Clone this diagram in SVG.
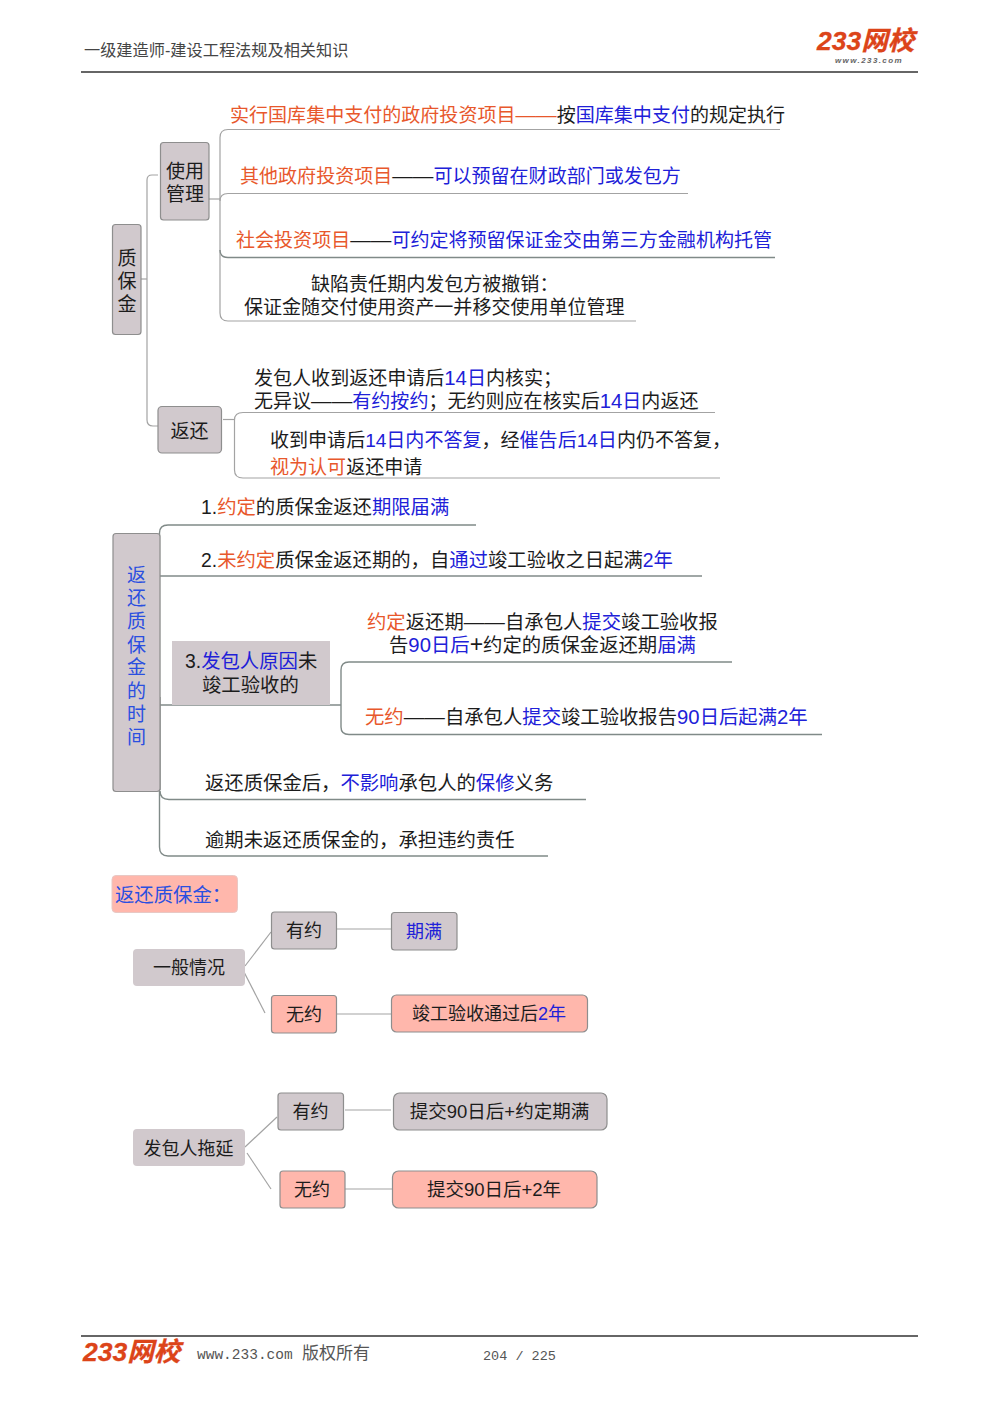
<svg xmlns="http://www.w3.org/2000/svg" width="1000" height="1415" viewBox="0 0 1000 1415">
<style>
text{font-family:"Liberation Sans","Noto Sans CJK SC",sans-serif;font-size:19.050px;fill:#1c1c1c}
.o{fill:#e8582c}.b{fill:#2020d8}.lb{fill:#2a4fe0}
.dd{font-size:20.600px}
.n{font-size:20.300px}
.w{font-size:19.350px}
.s{font-size:18px}
.s2{font-size:18.500px}
.g{fill:#d1c9cd;stroke:#8e8e8e;stroke-width:1.2}
.gn{fill:#d1c9cd}
.p{fill:#ffb7ac;stroke:#8e8e8e;stroke-width:1.2}
.pn{fill:#ffb7ac;stroke:#e8c8c4;stroke-width:1}
.c{fill:none;stroke:#a3a3a3;stroke-width:1.2}
.d{fill:none;stroke:#808a88;stroke-width:1.4}
.m{text-anchor:middle}
.rule{stroke:#333;stroke-width:1.5}
.logo{font-weight:bold;font-style:italic;fill:#dc4419;stroke:#dc4419;stroke-width:.3}
.hd{font-size:16.200px;fill:#454545}
.ft{font-family:"Liberation Mono","Noto Sans CJK SC",monospace;fill:#555}
</style>

<g id="page">
<line class="rule" x1="81" y1="72" x2="918" y2="72"/>
<line class="rule" x1="81" y1="1336" x2="918" y2="1336"/>
<text class="hd" x="84" y="56">一级建造师-建设工程法规及相关知识</text>
<text class="logo" x="817" y="50" style="font-size:26.500px">233网校</text>
<text x="835" y="63" style="font-size:8px;font-style:italic;font-weight:bold;letter-spacing:1.4px;fill:#666">www.233.com</text>
<text class="logo" x="83" y="1361" style="font-size:26.500px">233网校</text>
<text class="ft" x="197" y="1359" style="font-size:14.500px">www.233.com <tspan x="302" style="font-size:17px">版权所有</tspan></text>
<text class="ft" x="483" y="1360" style="font-size:13.500px">204 / 225</text>
</g>

<g id="connectors">
<path class="c" d="M158 175H152Q147 175 147 180V420Q147 426 153 426H158"/>
<path class="c" d="M141 279H147"/>
<path class="c" d="M209 199H220"/>
<path class="c" d="M780 129.500H228Q220 129.500 220 137.500V313Q220 321 228 321H636"/>
<path class="c" d="M220 201Q220 193.500 228 193.500H688"/>
<path class="d" d="M220 250Q220 257.500 228 257.500H775"/>
<path class="c" d="M223 419.500H234"/>
<path class="c" d="M715 412.500H243Q234.500 412.500 234.500 420V470Q234.500 478 243 478H720"/>
<path class="d" d="M476 525H168Q159.500 525 159.500 533V847Q159.500 856 168 856H548"/>
<path class="d" d="M160 576H702"/>
<path class="d" d="M160 705H341"/>
<path class="d" d="M160 791Q160 799.500 169 799.500H586"/>
<path class="d" d="M732 662H349Q341 662 341 670V727Q341 734.500 349 734.500H822"/>
<path d="M159.500 697V790" fill="none" stroke="#7c8280" stroke-width="2.200"/>
<path class="c" d="M336 929H391"/>
<path class="c" d="M245 966L271 932"/>
<path class="c" d="M244 972L265 1013"/>
<path class="c" d="M336 1014H391"/>
<path class="c" d="M345 1110H391"/>
<path class="c" d="M245 1147L277 1117"/>
<path class="c" d="M247 1153L271 1189"/>
<path class="c" d="M345 1189H392"/>
</g>

<g id="n-zhibaojin"><rect class="g" x="112.500" y="224.500" width="28.500" height="110" rx="3"/>
<text class="m" x="127" y="265">质</text><text class="m" x="127" y="288">保</text><text class="m" x="127" y="311">金</text></g>
<g id="n-shiyong"><rect class="g" x="160.500" y="142.500" width="48.500" height="77.500" rx="3"/>
<text class="m" x="185" y="178">使用</text><text class="m" x="185" y="201">管理</text></g>
<g id="n-fanhuan"><rect class="g" x="158" y="406.500" width="63.500" height="46.500" rx="4"/>
<text class="m" x="189.500" y="438">返还</text></g>

<g id="t1"><text x="230" y="122"><tspan class="o">实行国库集中支付的政府投资项目<tspan class="dd">——</tspan></tspan>按<tspan class="b">国库集中支付</tspan>的规定执行</text></g>
<g id="t2"><text x="240" y="183"><tspan class="o">其他政府投资项目</tspan><tspan class="dd">——</tspan><tspan class="b">可以预留在财政部门或发包方</tspan></text></g>
<g id="t3"><text x="236" y="247"><tspan class="o">社会投资项目</tspan><tspan class="dd">——</tspan><tspan class="b">可约定将预留保证金交由第三方金融机构托管</tspan></text></g>
<g id="t4"><text x="311" y="291">缺陷责任期内发包方被撤销：</text><text x="244" y="314">保证金随交付使用资产一并移交使用单位管理</text></g>
<g id="t5"><text x="254" y="385">发包人收到返还申请后<tspan class="b"><tspan class="n">14</tspan>日</tspan>内核实；</text>
<text x="254" y="408">无异议<tspan class="dd">——</tspan><tspan class="b">有约按约</tspan>；无约则应在核实后<tspan class="b"><tspan class="n">14</tspan>日</tspan>内返还</text></g>
<g id="t6"><text x="270" y="447">收到申请后<tspan class="b">14日内不答复</tspan>，经<tspan class="b">催告后14日</tspan>内仍不答复，</text>
<text x="270" y="474"><tspan class="o">视为认可</tspan>返还申请</text></g>

<g id="n-time"><rect class="g" x="113" y="533.500" width="47" height="258" rx="3"/>
<text class="m lb" x="136.500" y="582">返</text><text class="m lb" x="136.500" y="605">还</text><text class="m lb" x="136.500" y="628">质</text><text class="m lb" x="136.500" y="652">保</text><text class="m lb" x="136.500" y="674">金</text><text class="m lb" x="136.500" y="698">的</text><text class="m lb" x="136.500" y="721">时</text><text class="m lb" x="136.500" y="744">间</text></g>
<g id="t7"><text class="w" x="201" y="514">1.<tspan class="o">约定</tspan>的质保金返还<tspan class="b">期限届满</tspan></text></g>
<g id="t8"><text class="w" x="201" y="567">2.<tspan class="o">未约定</tspan>质保金返还期的，自<tspan class="b">通过</tspan>竣工验收之日起满<tspan class="b">2年</tspan></text></g>
<g id="n-three"><rect class="gn" x="172" y="641" width="158" height="64"/>
<text class="w" x="185" y="668">3.<tspan class="b">发包人原因</tspan>未</text><text class="w" x="202" y="692">竣工验收的</text></g>
<g id="t9"><text class="w" x="367" y="629"><tspan class="o">约定</tspan>返还期<tspan class="dd">——</tspan>自承包人<tspan class="b">提交</tspan>竣工验收报</text>
<text class="w" x="389" y="652">告<tspan class="b"><tspan class="n">90</tspan>日后</tspan><tspan style="font-size:23px">+</tspan>约定的质保金返还期<tspan class="b">届满</tspan></text></g>
<g id="t10"><text class="w" x="365" y="724"><tspan class="o">无约</tspan><tspan class="dd">——</tspan>自承包人<tspan class="b">提交</tspan>竣工验收报告<tspan class="b"><tspan class="n">90</tspan>日后起满<tspan class="n">2</tspan>年</tspan></text></g>
<g id="t11"><text class="w" x="205" y="790">返还质保金后，<tspan class="b">不影响</tspan>承包人的<tspan class="b">保修</tspan>义务</text></g>
<g id="t12"><text class="w" x="205" y="847">逾期未返还质保金的，承担违约责任</text></g>

<g id="n-title"><rect class="pn" x="112" y="875.500" width="125.500" height="37" rx="4"/>
<text class="w lb" x="115" y="902">返还质保金：</text></g>
<g id="n-general"><rect class="gn" x="133" y="949" width="112" height="37" rx="4"/><text class="m s" x="189" y="974">一般情况</text></g>
<g id="n-a1"><rect class="g" x="271.500" y="912" width="65" height="37" rx="3"/><text class="m s" x="304" y="937">有约</text></g>
<g id="n-a2"><rect class="g" x="391.500" y="912.500" width="65.500" height="37.500" rx="3"/><text class="m s b" x="424" y="938">期满</text></g>
<g id="n-a3"><rect class="p" x="271.500" y="995.500" width="65" height="37.500" rx="3"/><text class="m s" x="304" y="1021">无约</text></g>
<g id="n-a4"><rect class="p" x="391.500" y="995" width="196" height="37" rx="5"/><text class="m s" x="489" y="1020">竣工验收通过后<tspan class="b">2年</tspan></text></g>
<g id="n-delay"><rect class="gn" x="133" y="1129" width="112" height="37" rx="4"/><text class="m s" x="188.500" y="1155">发包人拖延</text></g>
<g id="n-b1"><rect class="g" x="278" y="1093" width="65.500" height="37" rx="3"/><text class="m s" x="310.500" y="1118">有约</text></g>
<g id="n-b2"><rect class="g" x="393.500" y="1093" width="213.500" height="37" rx="6"/><text class="m s2" x="499.500" y="1118">提交90日后+约定期满</text></g>
<g id="n-b3"><rect class="p" x="280" y="1171" width="65" height="37" rx="3"/><text class="m s" x="312" y="1196">无约</text></g>
<g id="n-b4"><rect class="p" x="392.500" y="1171" width="204.500" height="37" rx="6"/><text class="m s2" x="494" y="1196">提交90日后+2年</text></g>
</svg>
